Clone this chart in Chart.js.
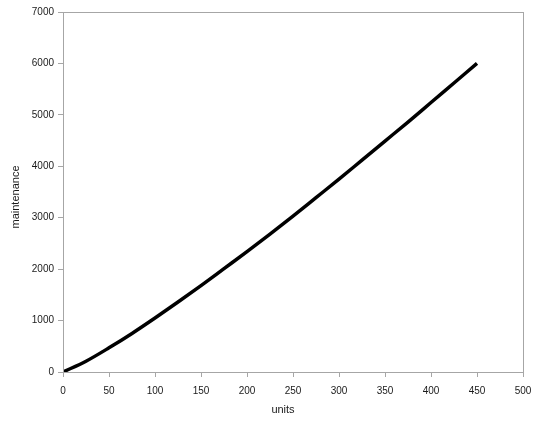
<!DOCTYPE html>
<html>
<head>
<meta charset="utf-8">
<script src="https://cdn.jsdelivr.net/npm/chart.js@4"></script>
<style>
html,body{margin:0;padding:0;background:#fff;}
#wrap{width:540px;height:422px;}
</style>
</head>
<body>
<div id="wrap"><canvas id="c" width="540" height="422"></canvas></div>
<script>
const units = [0, 25, 50, 75, 100, 125, 150, 175, 200, 225, 250, 275, 300, 325, 350, 375, 400, 425, 450];
const maintenance = [0, 210, 470, 750, 1050, 1360, 1680, 2010, 2340, 2680, 3030, 3390, 3750, 4120, 4490, 4860, 5240, 5620, 6000];
const xTitle = 'units';
const yTitle = 'maintenance';

const points = units.map((u, i) => ({x: u, y: maintenance[i]}));

const frame = {
  id: 'frame',
  afterDraw(chart) {
    const {ctx, chartArea: a} = chart;
    ctx.save();
    ctx.strokeStyle = '#a6a6a6';
    ctx.lineWidth = 1;
    ctx.strokeRect(Math.round(a.left) + 0.5, Math.round(a.top) + 0.5, Math.round(a.right - a.left), Math.round(a.bottom - a.top));
    ctx.fillStyle = '#1a1a1a';
    ctx.font = '11px "Liberation Sans", Arial, sans-serif';
    ctx.textAlign = 'center';
    ctx.textBaseline = 'middle';
    ctx.fillText(xTitle, 283, 410);
    ctx.translate(16, 197);
    ctx.rotate(-Math.PI / 2);
    ctx.fillText(yTitle, 0, 0);
    ctx.restore();
  }
};

new Chart(document.getElementById('c'), {
  type: 'scatter',
  data: {
    datasets: [{
      data: points,
      showLine: true,
      borderColor: '#000',
      borderWidth: 3.5,
      pointRadius: 0,
      cubicInterpolationMode: 'monotone',
      fill: false
    }]
  },
  options: {
    responsive: false,
    animation: false,
    layout: {padding: {top: 12, right: 17, left: 0, bottom: 0}},
    plugins: {legend: {display: false}, tooltip: {enabled: false}},
    scales: {
      x: {
        type: 'linear', min: 0, max: 500,
        ticks: {stepSize: 50, color: '#1a1a1a', font: {size: 10, family: '"Liberation Sans", Arial'}, padding: 8, maxRotation: 0, callback: v => String(v)},
        grid: {drawOnChartArea: false, tickLength: 5, color: '#a6a6a6'},
        border: {color: '#a6a6a6'},
        afterFit(s) { s.height = 50; }
      },
      y: {
        type: 'linear', min: 0, max: 7000,
        ticks: {stepSize: 1000, color: '#1a1a1a', font: {size: 10, family: '"Liberation Sans", Arial'}, padding: 4, callback: v => String(v)},
        grid: {drawOnChartArea: false, tickLength: 5, color: '#a6a6a6'},
        border: {color: '#a6a6a6'},
        afterFit(s) { s.width = 63; }
      }
    }
  },
  plugins: [frame]
});
</script>
</body>
</html>
